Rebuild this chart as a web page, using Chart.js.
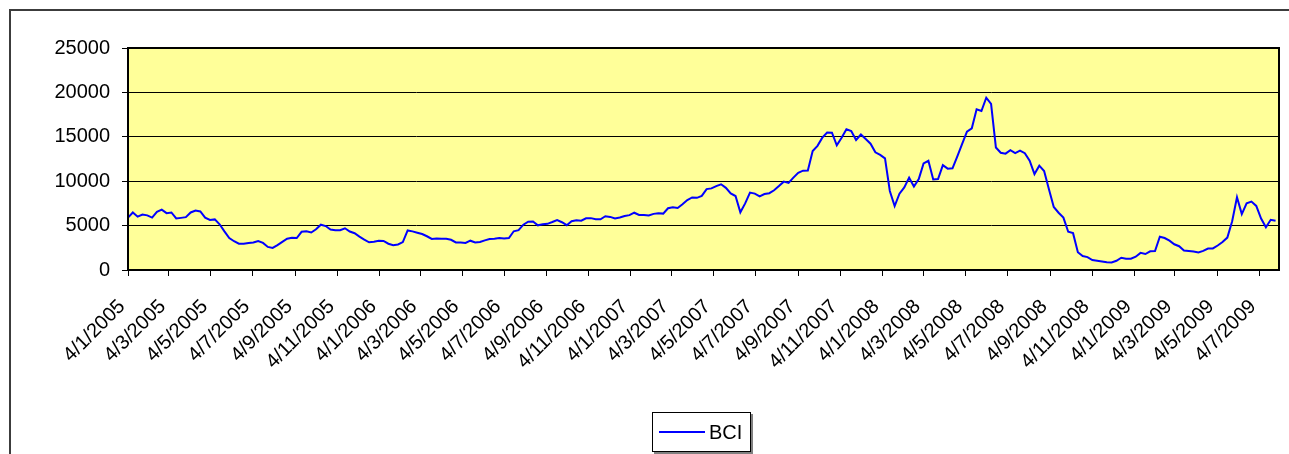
<!DOCTYPE html>
<html><head><meta charset="utf-8">
<script src="https://cdn.jsdelivr.net/npm/chart.js@4/dist/chart.umd.min.js"></script>
<style>html,body{margin:0;padding:0;background:#fff;overflow:hidden}canvas{display:block}</style>
</head><body><canvas id="c" width="1289" height="454"></canvas>
<script>
const dates = [
"4/1/2005","11/1/2005","18/1/2005","25/1/2005","1/2/2005","8/2/2005","15/2/2005","22/2/2005","1/3/2005","8/3/2005",
"15/3/2005","22/3/2005","29/3/2005","5/4/2005","12/4/2005","19/4/2005","26/4/2005","3/5/2005","10/5/2005","17/5/2005",
"24/5/2005","31/5/2005","7/6/2005","14/6/2005","21/6/2005","28/6/2005","5/7/2005","12/7/2005","19/7/2005","26/7/2005",
"2/8/2005","9/8/2005","16/8/2005","23/8/2005","30/8/2005","6/9/2005","13/9/2005","20/9/2005","27/9/2005","4/10/2005",
"11/10/2005","18/10/2005","25/10/2005","1/11/2005","8/11/2005","15/11/2005","22/11/2005","29/11/2005","6/12/2005","13/12/2005",
"20/12/2005","27/12/2005","3/1/2006","10/1/2006","17/1/2006","24/1/2006","31/1/2006","7/2/2006","14/2/2006","21/2/2006",
"28/2/2006","7/3/2006","14/3/2006","21/3/2006","28/3/2006","4/4/2006","11/4/2006","18/4/2006","25/4/2006","2/5/2006",
"9/5/2006","16/5/2006","23/5/2006","30/5/2006","6/6/2006","13/6/2006","20/6/2006","27/6/2006","4/7/2006","11/7/2006",
"18/7/2006","25/7/2006","1/8/2006","8/8/2006","15/8/2006","22/8/2006","29/8/2006","5/9/2006","12/9/2006","19/9/2006",
"26/9/2006","3/10/2006","10/10/2006","17/10/2006","24/10/2006","31/10/2006","7/11/2006","14/11/2006","21/11/2006","28/11/2006",
"5/12/2006","12/12/2006","19/12/2006","26/12/2006","2/1/2007","9/1/2007","16/1/2007","23/1/2007","30/1/2007","6/2/2007",
"13/2/2007","20/2/2007","27/2/2007","6/3/2007","13/3/2007","20/3/2007","27/3/2007","3/4/2007","10/4/2007","17/4/2007",
"24/4/2007","1/5/2007","8/5/2007","15/5/2007","22/5/2007","29/5/2007","5/6/2007","12/6/2007","19/6/2007","26/6/2007",
"3/7/2007","10/7/2007","17/7/2007","24/7/2007","31/7/2007","7/8/2007","14/8/2007","21/8/2007","28/8/2007","4/9/2007",
"11/9/2007","18/9/2007","25/9/2007","2/10/2007","9/10/2007","16/10/2007","23/10/2007","30/10/2007","6/11/2007","13/11/2007",
"20/11/2007","27/11/2007","4/12/2007","11/12/2007","18/12/2007","25/12/2007","1/1/2008","8/1/2008","15/1/2008","22/1/2008",
"29/1/2008","5/2/2008","12/2/2008","19/2/2008","26/2/2008","4/3/2008","11/3/2008","18/3/2008","25/3/2008","1/4/2008",
"8/4/2008","15/4/2008","22/4/2008","29/4/2008","6/5/2008","13/5/2008","20/5/2008","27/5/2008","3/6/2008","10/6/2008",
"17/6/2008","24/6/2008","1/7/2008","8/7/2008","15/7/2008","22/7/2008","29/7/2008","5/8/2008","12/8/2008","19/8/2008",
"26/8/2008","2/9/2008","9/9/2008","16/9/2008","23/9/2008","30/9/2008","7/10/2008","14/10/2008","21/10/2008","28/10/2008",
"4/11/2008","11/11/2008","18/11/2008","25/11/2008","2/12/2008","9/12/2008","16/12/2008","23/12/2008","30/12/2008","6/1/2009",
"13/1/2009","20/1/2009","27/1/2009","3/2/2009","10/2/2009","17/2/2009","24/2/2009","3/3/2009","10/3/2009","17/3/2009",
"24/3/2009","31/3/2009","7/4/2009","14/4/2009","21/4/2009","28/4/2009","5/5/2009","12/5/2009","19/5/2009","26/5/2009",
"2/6/2009","9/6/2009","16/6/2009","23/6/2009","30/6/2009","7/7/2009","14/7/2009","21/7/2009","28/7/2009"
];
const bci = [
5900,6480,6010,6250,6150,5900,6550,6800,6400,6480,
5800,5870,5950,6480,6700,6600,5900,5640,5700,5150,
4350,3600,3240,2960,2950,3050,3100,3270,3050,2600,
2480,2800,3170,3520,3640,3600,4300,4350,4220,4580,
5100,4950,4560,4480,4480,4700,4330,4140,3760,3420,
3120,3190,3280,3270,2960,2800,2880,3150,4450,4350,
4200,4050,3800,3500,3560,3520,3510,3400,3100,3100,
3050,3300,3100,3150,3340,3480,3520,3600,3550,3600,
4360,4480,5100,5440,5455,5030,5160,5200,5400,5620,
5380,5050,5500,5600,5560,5830,5840,5710,5710,6050,
5980,5800,5920,6090,6180,6450,6200,6200,6130,6320,
6380,6350,6950,7060,6990,7400,7880,8170,8130,8350,
9110,9190,9450,9650,9250,8620,8330,6500,7500,8720,
8600,8300,8550,8650,8980,9450,9950,9800,10400,10950,
11190,11200,13400,13980,14900,15480,15460,14040,14900,15850,
15650,14650,15260,14750,14220,13250,12960,12570,8900,7200,
8600,9300,10400,9400,10250,12000,12300,10200,10250,11800,
11410,11450,12800,14200,15570,15950,18100,17900,19400,18700,
13800,13200,13100,13500,13170,13450,13150,12300,10800,11750,
11150,9100,7100,6450,5900,4310,4150,2000,1570,1450,
1120,1050,970,880,850,1040,1380,1280,1280,1500,
1930,1800,2100,2140,3750,3600,3300,2900,2680,2200,
2140,2080,1980,2150,2420,2430,2760,3150,3650,5500,
8200,6300,7500,7700,7220,5800,4810,5650,5540
];
const tickLabels = [
"4/1/2005","4/3/2005","4/5/2005","4/7/2005","4/9/2005","4/11/2005",
"4/1/2006","4/3/2006","4/5/2006","4/7/2006","4/9/2006","4/11/2006",
"4/1/2007","4/3/2007","4/5/2007","4/7/2007","4/9/2007","4/11/2007",
"4/1/2008","4/3/2008","4/5/2008","4/7/2008","4/9/2008","4/11/2008",
"4/1/2009","4/3/2009","4/5/2009","4/7/2009"
];
const axisStart = "4/1/2005";
const axisEnd = "2/8/2009";
const yMin = 0, yMax = 25000, yStep = 5000;
const seriesName = "BCI";

function dayNum(s){const p=s.split('/').map(Number);return Date.UTC(p[2],p[1]-1,p[0])/86400000;}
const points = dates.map((d,i)=>({x:dayNum(d),y:bci[i]}));
const tickMap = new Map(tickLabels.map(l=>[dayNum(l),l]));
const FAM = "'Liberation Sans', Arial, sans-serif";

const decor = {
  id:'decor',
  beforeDraw(chart){
    const ctx=chart.ctx, a=chart.chartArea;
    ctx.save();
    ctx.fillStyle='#fff';ctx.fillRect(0,0,chart.width,chart.height);
    ctx.fillStyle='#FFFF99';ctx.fillRect(a.left,a.top,a.right-a.left,a.bottom-a.top);
    ctx.strokeStyle='#3c3c3c';ctx.lineWidth=2;
    ctx.beginPath();ctx.moveTo(10,chart.height+5);ctx.lineTo(10,10);ctx.lineTo(chart.width+5,10);ctx.stroke();
    ctx.restore();
  },
  afterDraw(chart){
    const ctx=chart.ctx, a=chart.chartArea;
    ctx.save();
    ctx.strokeStyle='#000';ctx.lineWidth=2;
    ctx.strokeRect(a.left,a.top,a.right-a.left,a.bottom-a.top);
    const lx=652, ly=412, lw=99, lh=40;
    ctx.fillStyle='#808080';ctx.fillRect(lx+2,ly+2,lw,lh);
    ctx.fillStyle='#fff';ctx.fillRect(lx,ly,lw,lh);
    ctx.strokeStyle='#000';ctx.lineWidth=1;ctx.strokeRect(lx+0.5,ly+0.5,lw-1,lh-1);
    const ds=chart.data.datasets[0];
    ctx.strokeStyle=ds.borderColor;ctx.lineWidth=2;
    ctx.beginPath();ctx.moveTo(lx+7,ly+20);ctx.lineTo(lx+53,ly+20);ctx.stroke();
    ctx.fillStyle='#000';ctx.font="20px "+FAM;
    ctx.textBaseline='middle';ctx.textAlign='left';
    ctx.fillText(ds.label,lx+57,ly+21);
    ctx.restore();
  }
};

new Chart(document.getElementById('c'),{
  type:'line',
  data:{datasets:[{label:seriesName,data:points,borderColor:'#0000FF',borderWidth:2,pointRadius:0,tension:0,fill:false}]},
  options:{
    responsive:false,animation:false,devicePixelRatio:1,
    layout:{padding:{left:10,right:10,top:48,bottom:0}},
    plugins:{legend:{display:false},tooltip:{enabled:false}},
    scales:{
      x:{type:'linear',min:dayNum(axisStart),max:dayNum(axisEnd),bounds:'data',
        afterBuildTicks(s){s.ticks=tickLabels.map(l=>({value:dayNum(l)}));},
        afterFit(s){s.height=184;s.paddingLeft=0;s.paddingRight=0;},
        grid:{display:true,drawOnChartArea:false,drawTicks:true,tickLength:6,color:'#000',lineWidth:1},
        border:{display:true,color:'#000',width:2},
        ticks:{autoSkip:false,minRotation:45,maxRotation:45,padding:19,labelOffset:-6,color:'#000',font:{family:FAM,size:20},
          callback:(v)=>tickMap.get(v)||''}
      },
      y:{min:yMin,max:yMax,
        afterFit(s){s.width=118;},
        grid:{color:'#000',lineWidth:1,tickLength:6},
        border:{display:true,color:'#000',width:2},
        ticks:{stepSize:yStep,padding:12,color:'#000',font:{family:FAM,size:20},callback:(v)=>String(v)}
      }
    }
  },
  plugins:[decor]
});
</script></body></html>
